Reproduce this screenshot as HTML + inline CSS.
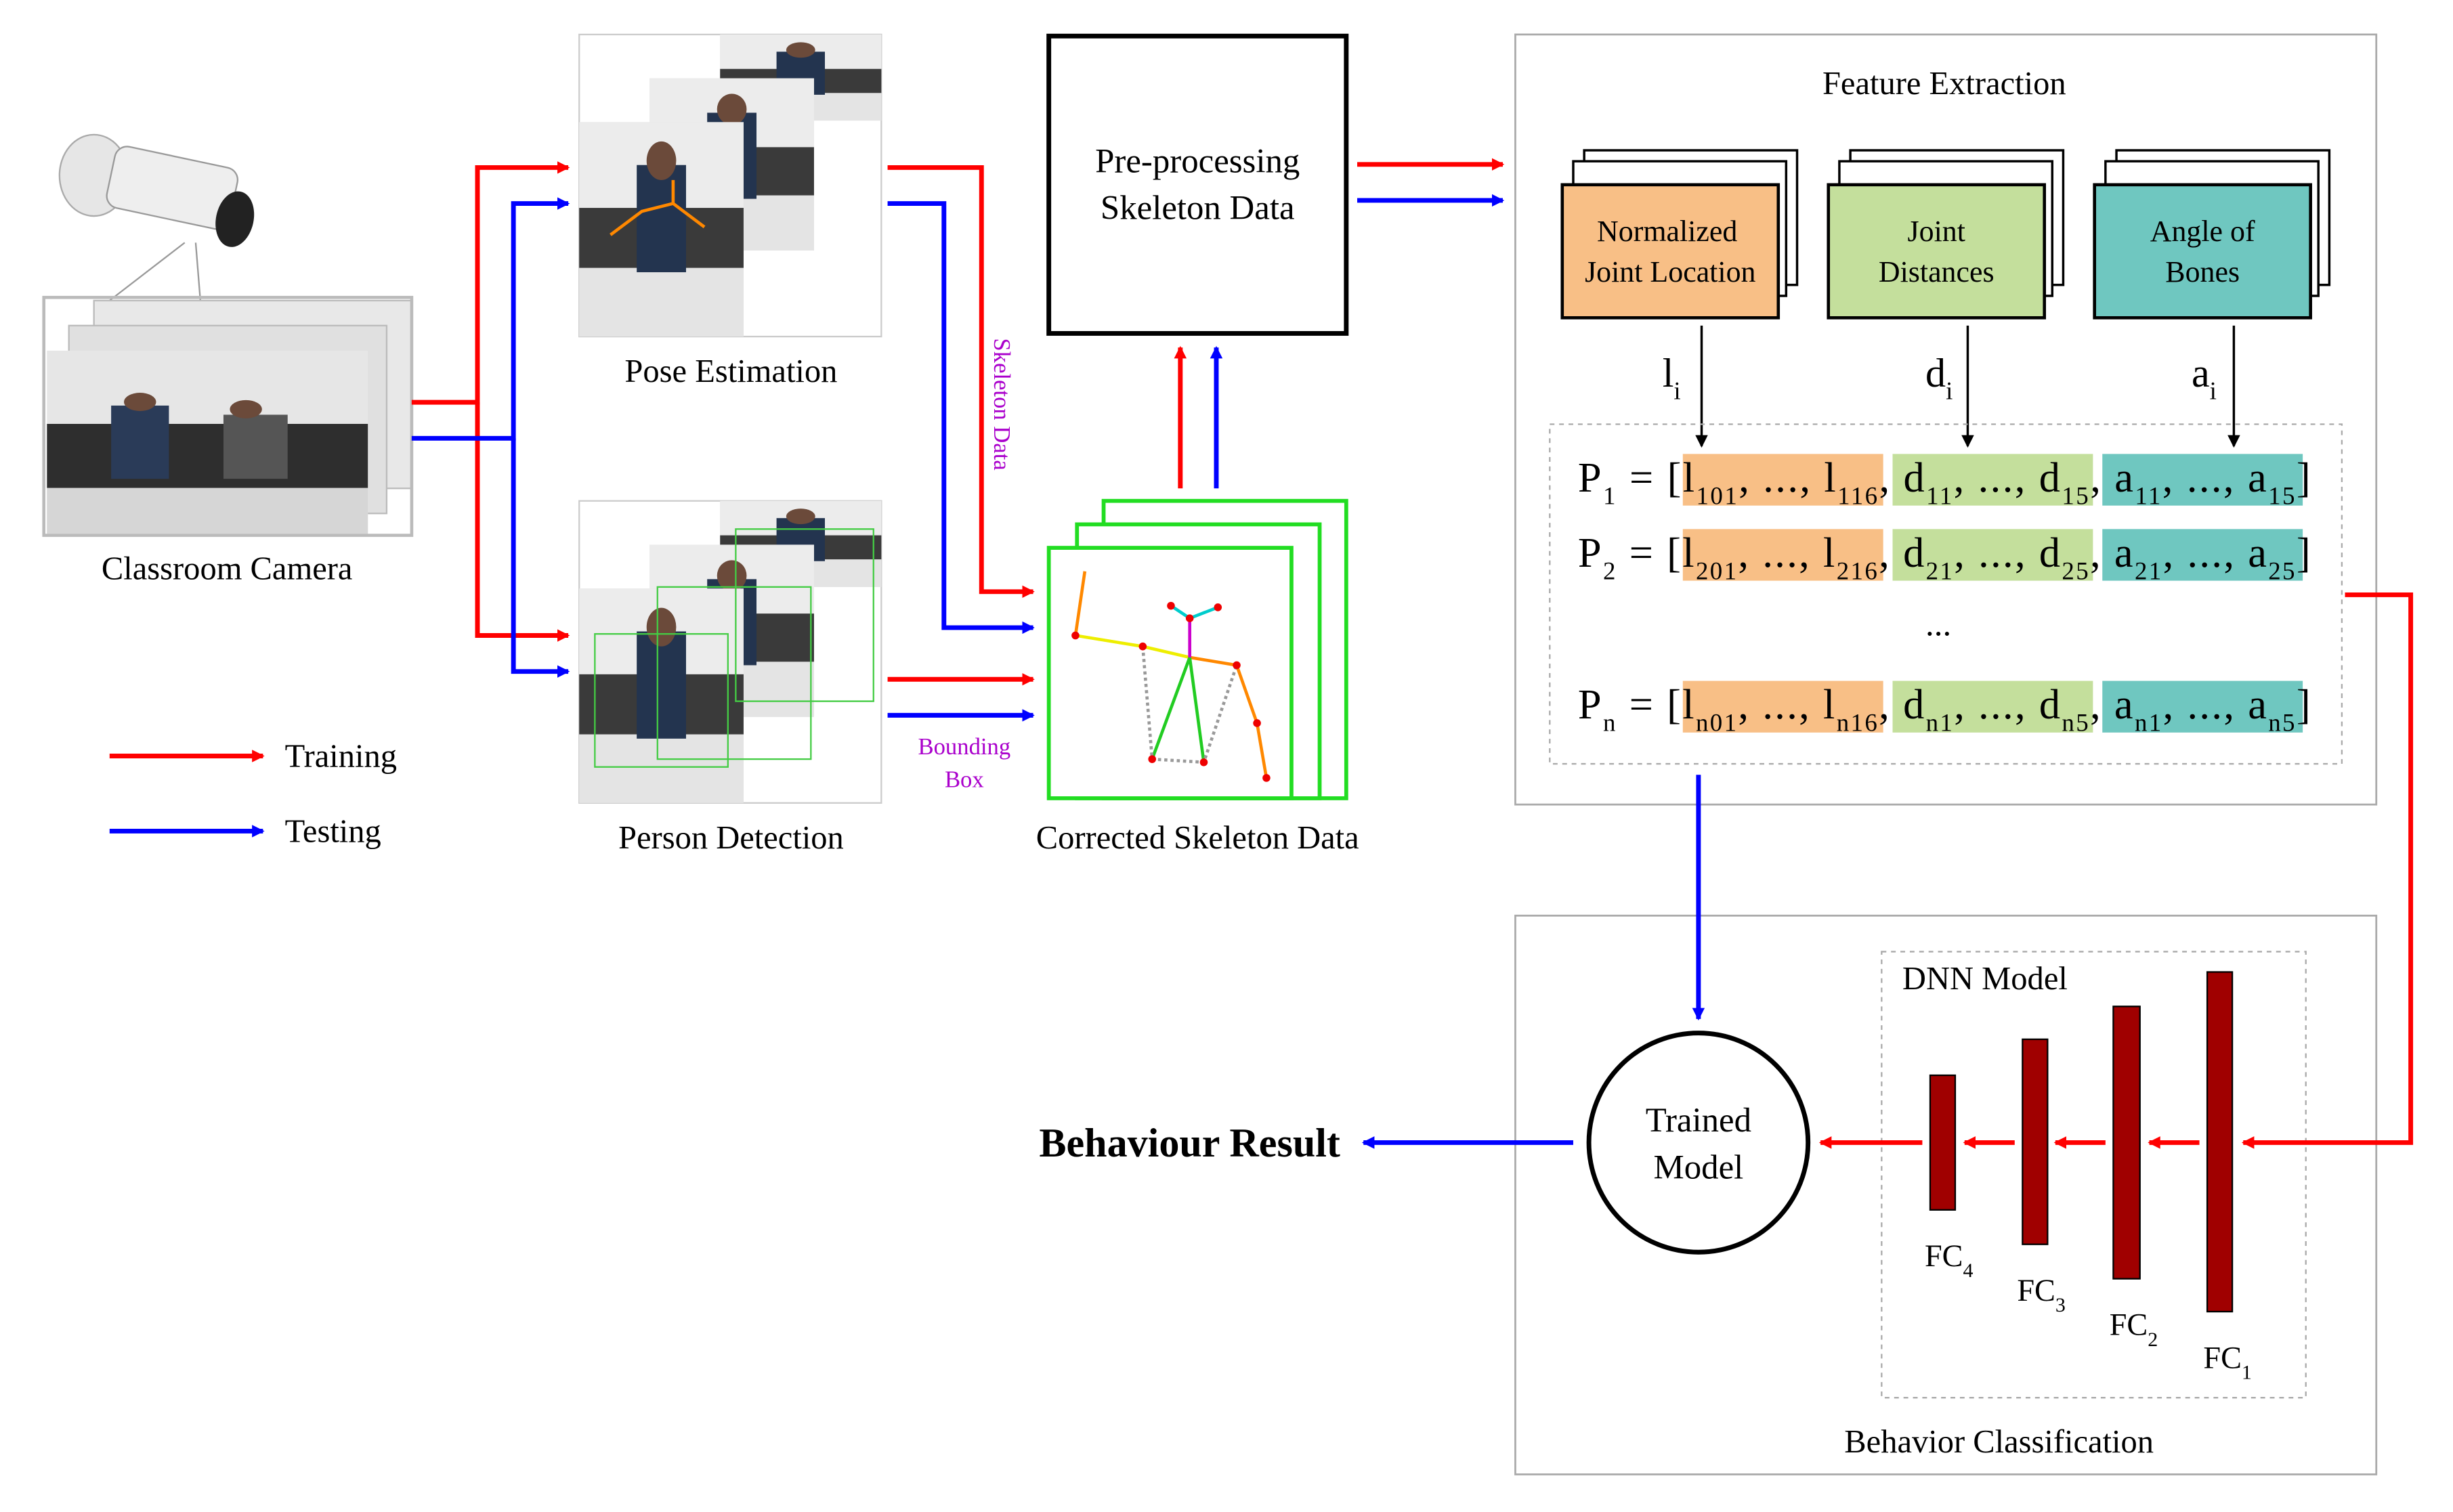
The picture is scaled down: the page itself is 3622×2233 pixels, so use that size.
<!DOCTYPE html>
<html><head><meta charset="utf-8">
<style>html,body{margin:0;padding:0;background:#fff}svg{display:block}text{font-family:"Liberation Serif",serif}</style>
</head><body>
<svg width="3622" height="2233" viewBox="0 0 1567 966" xmlns="http://www.w3.org/2000/svg">
<defs>
<marker id="ar" markerWidth="8" markerHeight="8" refX="7" refY="4" orient="auto" markerUnits="userSpaceOnUse"><path d="M0,0 L8,4 L0,8 z" fill="#f00"/></marker>
<marker id="ab" markerWidth="8" markerHeight="8" refX="7" refY="4" orient="auto" markerUnits="userSpaceOnUse"><path d="M0,0 L8,4 L0,8 z" fill="#00f"/></marker>
<marker id="ak" markerWidth="8" markerHeight="8" refX="7" refY="4" orient="auto" markerUnits="userSpaceOnUse"><path d="M0,0 L8,4 L0,8 z" fill="#000"/></marker>
<g id="photo">
<rect x="0" y="0" width="100" height="100" fill="#d8d8d8"/>
<rect x="0" y="0" width="100" height="40" fill="#ececec"/>
<rect x="0" y="40" width="100" height="28" fill="#3a3a3a"/>
<rect x="0" y="68" width="100" height="32" fill="#e4e4e4"/>
<rect x="35" y="20" width="30" height="50" fill="#23344f"/>
<circle cx="50" cy="18" r="9" fill="#6b4a3a"/>
</g>
</defs>

<g>
<ellipse cx="60" cy="112" rx="22" ry="26" fill="#e6e6e6" stroke="#aaa"/>
<rect x="70" y="100" width="80" height="40" rx="8" fill="#eee" stroke="#999" transform="rotate(12 110 120)"/>
<ellipse cx="150" cy="140" rx="12" ry="18" fill="#222" transform="rotate(12 150 140)"/>
<path d="M118,155 L70,192 M125,155 L128,192" stroke="#999" fill="none"/>
</g>
<rect x="60" y="192" width="203" height="120" fill="#e8e8e8" stroke="#bbb"/>
<rect x="44" y="208" width="203" height="120" fill="#e0e0e0" stroke="#bbb"/>
<g transform="translate(30,224) scale(2.05,1.17)"><rect width="100" height="100" fill="#e6e6e6"/><rect y="40" width="100" height="35" fill="#2e2e2e"/><rect y="75" width="100" height="25" fill="#d6d6d6"/><rect x="20" y="30" width="18" height="40" fill="#2a3b58"/><rect x="55" y="35" width="20" height="35" fill="#555"/><circle cx="29" cy="28" r="5" fill="#6b4a3a"/><circle cx="62" cy="32" r="5" fill="#6b4a3a"/></g>
<rect x="28" y="190" width="235" height="152" fill="none" stroke="#bbb" stroke-width="2"/>
<text x="145" y="370" font-size="21" text-anchor="middle">Classroom Camera</text>

<rect x="370" y="22" width="193" height="193" fill="#fff" stroke="#ccc"/>
<g transform="translate(460,22) scale(1.03,0.55)"><use href="#photo"/></g>
<g transform="translate(415,50) scale(1.05,1.1)"><use href="#photo"/></g>
<g transform="translate(370,78) scale(1.05,1.37)"><use href="#photo"/></g>
<path d="M390,150 L410,135 L430,130 L450,145 M430,130 L430,115" stroke="#f80" stroke-width="2" fill="none"/>
<text x="467" y="244" font-size="21" text-anchor="middle">Pose Estimation</text>

<rect x="370" y="320" width="193" height="193" fill="#fff" stroke="#ccc"/>
<g transform="translate(460,320) scale(1.03,0.55)"><use href="#photo"/></g>
<g transform="translate(415,348) scale(1.05,1.1)"><use href="#photo"/></g>
<g transform="translate(370,376) scale(1.05,1.37)"><use href="#photo"/></g>
<rect x="470" y="338" width="88" height="110" fill="none" stroke="#4c4" stroke-width="1"/>
<rect x="420" y="375" width="98" height="110" fill="none" stroke="#4c4" stroke-width="1"/>
<rect x="380" y="405" width="85" height="85" fill="none" stroke="#4c4" stroke-width="1"/>
<text x="467" y="542" font-size="21" text-anchor="middle">Person Detection</text>

<rect x="670" y="23" width="190" height="190" fill="#fff" stroke="#000" stroke-width="3"/>
<text x="765" y="110" font-size="22" text-anchor="middle">Pre-processing</text>
<text x="765" y="140" font-size="22" text-anchor="middle">Skeleton Data</text>

<rect x="705" y="320" width="155" height="190" fill="#fff" stroke="#2d2" stroke-width="2.5"/>
<rect x="688" y="335" width="155" height="175" fill="#fff" stroke="#2d2" stroke-width="2.5"/>
<rect x="670" y="350" width="155" height="160" fill="#fff" stroke="#2d2" stroke-width="2.5"/>
<g fill="none" stroke-width="2">
<path d="M687,406 L693,365" stroke="#f80"/>
<path d="M687,406 L730,413 L760,420" stroke="#ee0"/>
<path d="M760,420 L790,425 L803,462 L809,497" stroke="#f80"/>
<path d="M760,420 L736,485 M760,420 L769,487" stroke="#2c2"/>
<path d="M760,395 L760,420" stroke="#c0c"/>
<path d="M760,395 L748,387 M760,395 L778,388" stroke="#0cc"/>
<path d="M730,413 L736,485 L769,487 L790,425" stroke="#999" stroke-dasharray="2,2"/>
</g>
<g fill="#e00"><circle cx="687" cy="406" r="2.5"/><circle cx="730" cy="413" r="2.5"/><circle cx="790" cy="425" r="2.5"/><circle cx="803" cy="462" r="2.5"/><circle cx="809" cy="497" r="2.5"/><circle cx="736" cy="485" r="2.5"/><circle cx="769" cy="487" r="2.5"/><circle cx="760" cy="395" r="2.5"/><circle cx="748" cy="387" r="2.5"/><circle cx="778" cy="388" r="2.5"/></g>
<text x="765" y="542" font-size="21" text-anchor="middle">Corrected Skeleton Data</text>

<g fill="none" stroke-width="3">
<path d="M263,257 H305 V107 H363" stroke="#f00" marker-end="url(#ar)"/>
<path d="M305,257 V406 H363" stroke="#f00" marker-end="url(#ar)"/>
<path d="M263,280 H328 V130 H363" stroke="#00f" marker-end="url(#ab)"/>
<path d="M328,280 V429 H363" stroke="#00f" marker-end="url(#ab)"/>
<path d="M567,107 H627 V378 H660" stroke="#f00" marker-end="url(#ar)"/>
<path d="M567,130 H603 V401 H660" stroke="#00f" marker-end="url(#ab)"/>
<path d="M567,434 H660" stroke="#f00" marker-end="url(#ar)"/>
<path d="M567,457 H660" stroke="#00f" marker-end="url(#ab)"/>
<path d="M754,312 V222" stroke="#f00" marker-end="url(#ar)"/>
<path d="M777,312 V222" stroke="#00f" marker-end="url(#ab)"/>
<path d="M867,105 H960" stroke="#f00" marker-end="url(#ar)"/>
<path d="M867,128 H960" stroke="#00f" marker-end="url(#ab)"/>
<path d="M70,483 H168" stroke="#f00" marker-end="url(#ar)"/>
<path d="M70,531 H168" stroke="#00f" marker-end="url(#ab)"/>
</g>
<text x="182" y="490" font-size="21">Training</text>
<text x="182" y="538" font-size="21">Testing</text>
<text x="635" y="216" font-size="15" fill="#a0c" transform="rotate(90 635 216)">Skeleton Data</text>
<text x="616" y="482" font-size="15" fill="#a0c" text-anchor="middle">Bounding</text>
<text x="616" y="503" font-size="15" fill="#a0c" text-anchor="middle">Box</text>

<rect x="968" y="22" width="550" height="492" fill="none" stroke="#aaa" stroke-width="1.2"/>
<text x="1242" y="60" font-size="21" text-anchor="middle">Feature Extraction</text>
<g stroke="#000" stroke-width="1.5">
<rect x="1012" y="96" width="136" height="86" fill="#fff"/><rect x="1005" y="103" width="136" height="86" fill="#fff"/><rect x="998" y="118" width="138" height="85" fill="#f8bf86" stroke-width="2"/>
<rect x="1182" y="96" width="136" height="86" fill="#fff"/><rect x="1175" y="103" width="136" height="86" fill="#fff"/><rect x="1168" y="118" width="138" height="85" fill="#c4df9c" stroke-width="2"/>
<rect x="1352" y="96" width="136" height="86" fill="#fff"/><rect x="1345" y="103" width="136" height="86" fill="#fff"/><rect x="1338" y="118" width="138" height="85" fill="#6fc7c0" stroke-width="2"/>
</g>
<g font-size="19" text-anchor="middle">
<text x="1065" y="154">Normalized</text><text x="1067" y="180">Joint Location</text>
<text x="1237" y="154">Joint</text><text x="1237" y="180">Distances</text>
<text x="1407" y="154">Angle of</text><text x="1407" y="180">Bones</text>
</g>
<g stroke="#000" stroke-width="1.5" fill="none">
<path d="M1087,208 V285" marker-end="url(#ak)"/><path d="M1257,208 V285" marker-end="url(#ak)"/><path d="M1427,208 V285" marker-end="url(#ak)"/>
</g>
<text x="1062" y="247" font-size="26">l<tspan font-size="16" dy="8">i</tspan></text>
<text x="1230" y="247" font-size="26">d<tspan font-size="16" dy="8">i</tspan></text>
<text x="1400" y="247" font-size="26">a<tspan font-size="16" dy="8">i</tspan></text>
<rect x="990" y="271" width="506" height="217" fill="none" stroke="#aaa" stroke-dasharray="3,3"/>
<g>
<rect x="1075" y="290" width="128" height="33" fill="#f8bf86"/><rect x="1209" y="290" width="128" height="33" fill="#c4df9c"/><rect x="1343" y="290" width="128" height="33" fill="#6fc7c0"/>
<rect x="1075" y="338" width="128" height="33" fill="#f8bf86"/><rect x="1209" y="338" width="128" height="33" fill="#c4df9c"/><rect x="1343" y="338" width="128" height="33" fill="#6fc7c0"/>
<rect x="1075" y="435" width="128" height="33" fill="#f8bf86"/><rect x="1209" y="435" width="128" height="33" fill="#c4df9c"/><rect x="1343" y="435" width="128" height="33" fill="#6fc7c0"/>
</g>
<g font-size="27">
<text x="1008" y="314" textLength="468" lengthAdjust="spacing">P<tspan font-size="16" dy="8">1</tspan><tspan dy="-8"> = [l</tspan><tspan font-size="16" dy="8">101</tspan><tspan dy="-8">, ..., l</tspan><tspan font-size="16" dy="8">116</tspan><tspan dy="-8">, d</tspan><tspan font-size="16" dy="8">11</tspan><tspan dy="-8">, ..., d</tspan><tspan font-size="16" dy="8">15</tspan><tspan dy="-8">, a</tspan><tspan font-size="16" dy="8">11</tspan><tspan dy="-8">, ..., a</tspan><tspan font-size="16" dy="8">15</tspan><tspan dy="-8">]</tspan></text>
<text x="1008" y="362" textLength="468" lengthAdjust="spacing">P<tspan font-size="16" dy="8">2</tspan><tspan dy="-8"> = [l</tspan><tspan font-size="16" dy="8">201</tspan><tspan dy="-8">, ..., l</tspan><tspan font-size="16" dy="8">216</tspan><tspan dy="-8">, d</tspan><tspan font-size="16" dy="8">21</tspan><tspan dy="-8">, ..., d</tspan><tspan font-size="16" dy="8">25</tspan><tspan dy="-8">, a</tspan><tspan font-size="16" dy="8">21</tspan><tspan dy="-8">, ..., a</tspan><tspan font-size="16" dy="8">25</tspan><tspan dy="-8">]</tspan></text>
<text x="1230" y="406" font-size="22">...</text>
<text x="1008" y="459" textLength="468" lengthAdjust="spacing">P<tspan font-size="16" dy="8">n</tspan><tspan dy="-8"> = [l</tspan><tspan font-size="16" dy="8">n01</tspan><tspan dy="-8">, ..., l</tspan><tspan font-size="16" dy="8">n16</tspan><tspan dy="-8">, d</tspan><tspan font-size="16" dy="8">n1</tspan><tspan dy="-8">, ..., d</tspan><tspan font-size="16" dy="8">n5</tspan><tspan dy="-8">, a</tspan><tspan font-size="16" dy="8">n1</tspan><tspan dy="-8">, ..., a</tspan><tspan font-size="16" dy="8">n5</tspan><tspan dy="-8">]</tspan></text>
</g>

<rect x="968" y="585" width="550" height="357" fill="none" stroke="#aaa" stroke-width="1.2"/>
<text x="1277" y="928" font-size="21" text-anchor="middle">Behavior Classification</text>
<rect x="1202" y="608" width="271" height="285" fill="none" stroke="#aaa" stroke-dasharray="3,3"/>
<text x="1268" y="632" font-size="21" text-anchor="middle">DNN Model</text>
<g fill="#a00000" stroke="#000" stroke-width="1">
<rect x="1410" y="621" width="16" height="217"/><rect x="1350" y="643" width="17" height="174"/><rect x="1292" y="664" width="16" height="131"/><rect x="1233" y="687" width="16" height="86"/>
</g>
<g font-size="20" text-anchor="middle">
<text x="1245" y="809">FC<tspan font-size="13" dy="7">4</tspan></text>
<text x="1304" y="831">FC<tspan font-size="13" dy="7">3</tspan></text>
<text x="1363" y="853">FC<tspan font-size="13" dy="7">2</tspan></text>
<text x="1423" y="874">FC<tspan font-size="13" dy="7">1</tspan></text>
</g>
<circle cx="1085" cy="730" r="70" fill="#fff" stroke="#000" stroke-width="3"/>
<text x="1085" y="723" font-size="22" text-anchor="middle">Trained</text>
<text x="1085" y="753" font-size="22" text-anchor="middle">Model</text>
<g fill="none" stroke-width="3">
<path d="M1498,380 H1540 V730 H1433" stroke="#f00" marker-end="url(#ar)"/>
<path d="M1405,730 H1373" stroke="#f00" marker-end="url(#ar)"/>
<path d="M1345,730 H1313" stroke="#f00" marker-end="url(#ar)"/>
<path d="M1287,730 H1255" stroke="#f00" marker-end="url(#ar)"/>
<path d="M1228,730 H1163" stroke="#f00" marker-end="url(#ar)"/>
<path d="M1085,495 V651" stroke="#00f" marker-end="url(#ab)"/>
<path d="M1005,730 H871" stroke="#00f" marker-end="url(#ab)"/>
</g>
<text x="760" y="739" font-size="26" font-weight="bold" text-anchor="middle">Behaviour Result</text>
</svg>
</body></html>
